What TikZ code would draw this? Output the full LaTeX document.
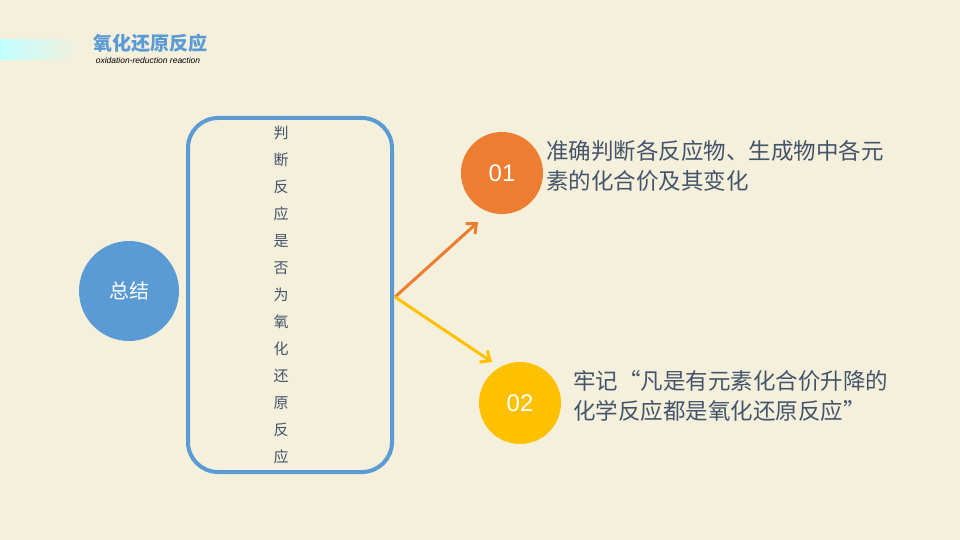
\documentclass[tikz,border=0pt]{standalone}
\usepackage{fontspec}
\setmainfont{Liberation Sans}
\newfontfamily\cjk{Noto Sans CJK SC}
\usetikzlibrary{positioning}
\usetikzlibrary{arrows.meta}
\definecolor{paper}{HTML}{F5F0DC}
\definecolor{sumblue}{HTML}{5B9BD5}
\definecolor{orng}{HTML}{ED7D31}
\definecolor{gold}{HTML}{FFC000}
\definecolor{txtgray}{HTML}{44546A}
\tikzset{
  numball/.style={circle, minimum size=82pt, inner sep=0pt, text=white, font=\fontsize{24}{24}\selectfont},
  note/.style={anchor=north west, align=left, text=txtgray, font=\cjk\fontsize{22.5}{30}\selectfont, inner sep=0pt},
}
\begin{document}
\begin{tikzpicture}[x=1pt,y=-1pt]
\useasboundingbox (0,0) rectangle (960,540);
\fill[paper] (0,0) rectangle (960,540);

% header
\shade[left color=cyan!25, right color=paper] (0,40) rectangle (80,60);
\node (title) at (150,43) {\cjk\bfseries\fontsize{19}{19}\selectfont\textcolor{sumblue}{氧化还原反应}};
\node (subtitle) at (148,60) {\fontsize{8.5}{8.5}\selectfont\itshape oxidation-reduction reaction};

% summary
\node[circle, fill=sumblue, minimum size=100pt, text=white, font=\cjk\fontsize{20}{20}\selectfont] (sum) at (129,291) {总结};
\draw[sumblue, line width=4pt, rounded corners=30pt] (188,118) rectangle (392,472);
\foreach \c [count=\i from 0] in {判,断,反,应,是,否,为,氧,化,还,原,反,应}
  \node[text=txtgray, font=\cjk\fontsize{15}{15}\selectfont] at (281,133+27*\i) {\c};
\coordinate (fork) at (395,297);

% items
\node[numball, fill=orng] (one) at (502,173) {01};
\node[numball, fill=gold] (two) at (520,403) {02};
\draw[orng, line width=3pt, -{Straight Barb[length=8pt,width=14pt]}] (fork) -- (478,222);
\draw[gold, line width=3pt, -{Straight Barb[length=8pt,width=14pt]}] (fork) -- (492,362);
\node[note] (noteone) at (546,140) {准确判断各反应物、生成物中各元\\素的化合价及其变化};
\node[note] (notetwo) at (573,370) {牢记“凡是有元素化合价升降的\\化学反应都是氧化还原反应”};
\end{tikzpicture}
\end{document}
